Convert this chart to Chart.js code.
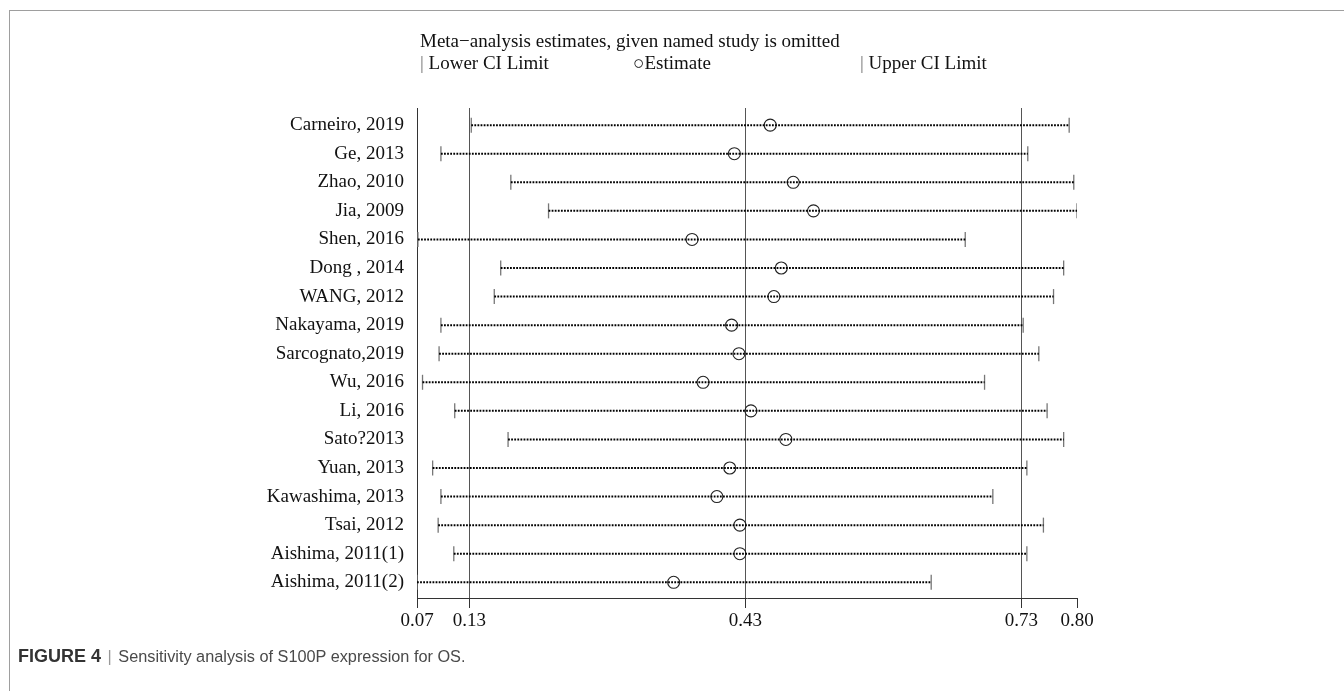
<!DOCTYPE html>
<html>
<head>
<meta charset="utf-8">
<script src="https://cdn.jsdelivr.net/npm/chart.js@4"></script>
<style>
  body { margin: 0; width: 1344px; height: 691px; position: relative; background: #fff; overflow: hidden; }
  #frame { position: absolute; left: 9px; top: 10px; right: 0; bottom: 0; border-left: 1px solid #9e9e9e; border-top: 1px solid #9e9e9e; }
  #chart { position: absolute; left: 0; top: 0; }
  .serif { position: absolute; font-family: "Liberation Serif", "Times New Roman", serif; font-size: 19px; color: #111; white-space: nowrap; line-height: 1; }
  .pipe { color: #777; }
  #caption { position: absolute; left: 18px; top: 647px; font-family: "Liberation Sans", Arial, sans-serif; font-size: 16.3px; color: #4a4a4a; white-space: nowrap; line-height: 1; }
  #caption b { color: #333; font-size: 18px; }
  #caption .sep { color: #999; margin: 0 2px; }
</style>
</head>
<body>
<div id="frame"></div>
<canvas id="chart" width="1344" height="691"></canvas>

<div class="serif" style="left:420px;top:31px">Meta−analysis estimates, given named study is omitted</div>
<div class="serif" style="left:420px;top:53px"><span class="pipe">|</span> Lower CI Limit</div>
<div class="serif" style="left:633px;top:53px">○Estimate</div>
<div class="serif" style="left:860px;top:53px"><span class="pipe">|</span> Upper CI Limit</div>

<div id="caption"><b>FIGURE 4</b> <span class="sep">|</span> Sensitivity analysis of S100P expression for OS.</div>

<script>
// 各研究を除外したときのメタ解析推定値
const studies = [
    'Carneiro, 2019', 'Ge, 2013', 'Zhao, 2010', 'Jia, 2009', 'Shen, 2016',
    'Dong , 2014', 'WANG, 2012', 'Nakayama, 2019', 'Sarcognato,2019', 'Wu, 2016',
    'Li, 2016', 'Sato?2013', 'Yuan, 2013', 'Kawashima, 2013', 'Tsai, 2012',
    'Aishima, 2011(1)', 'Aishima, 2011(2)'
];
const lowerCI = [0.132, 0.099, 0.175, 0.216, 0.074, 0.164, 0.157, 0.099, 0.097, 0.079, 0.114, 0.172, 0.090, 0.099, 0.096, 0.113, 0.073];
const estimate = [0.457, 0.418, 0.482, 0.504, 0.372, 0.469, 0.461, 0.415, 0.423, 0.384, 0.436, 0.474, 0.413, 0.399, 0.424, 0.424, 0.352];
const upperCI = [0.782, 0.737, 0.787, 0.7905, 0.669, 0.776, 0.765, 0.732, 0.749, 0.690, 0.758, 0.776, 0.736, 0.699, 0.754, 0.736, 0.632];

// 全体の推定値と信頼区間（縦線）
const refLines = [0.13, 0.43, 0.73];
const axisMin = 0.073;
const axisMax = 0.7905;
const xTickValues = [axisMin, refLines[0], refLines[1], refLines[2], axisMax];
const xTickLabels = ['0.07', '0.13', '0.43', '0.73', '0.80'];

const serif = { family: '"Liberation Serif", "Times New Roman", serif', size: 19 };

// 点線（研究ごとに1本）
const ciDatasets = studies.map((name, i) => ({
    label: name,
    data: [{ x: lowerCI[i], y: i + 1 }, { x: upperCI[i], y: i + 1 }],
    showLine: true,
    borderColor: '#000',
    borderWidth: 2,
    borderDash: [1.8, 1.3],
    pointRadius: 0
}));

const capPoints = [];
studies.forEach((_, i) => {
    capPoints.push({ x: lowerCI[i], y: i + 1 });
    capPoints.push({ x: upperCI[i], y: i + 1 });
});

new Chart(document.getElementById('chart').getContext('2d'), {
    type: 'scatter',
    data: {
        datasets: [
            ...ciDatasets,
            {
                label: 'CI limits',
                data: capPoints,
                pointStyle: 'line',
                pointRotation: 90,
                pointRadius: 7.5,
                pointBorderColor: '#777',
                pointBorderWidth: 1.3
            },
            {
                label: 'Estimate',
                data: estimate.map((v, i) => ({ x: v, y: i + 1 })),
                pointStyle: 'circle',
                pointRadius: 6,
                pointBorderColor: '#222',
                pointBorderWidth: 1.1,
                pointBackgroundColor: 'rgba(0,0,0,0)'
            }
        ]
    },
    options: {
        responsive: false,
        animation: false,
        events: [],
        layout: { padding: { top: 108, right: 267, bottom: 53, left: 0 } },
        plugins: { legend: { display: false }, tooltip: { enabled: false } },
        scales: {
            x: {
                type: 'linear',
                min: axisMin,
                max: axisMax,
                afterBuildTicks: scale => { scale.ticks = xTickValues.map(v => ({ value: v })); },
                afterFit: scale => { scale.height = 40; },
                ticks: {
                    autoSkip: false,
                    maxRotation: 0,
                    padding: 2,
                    color: '#111',
                    font: serif,
                    callback: (v, i) => xTickLabels[i]
                },
                grid: {
                    color: c => (c.index === 4 ? 'rgba(0,0,0,0)' : '#555'),
                    lineWidth: 1,
                    tickColor: '#333',
                    tickLength: 10
                },
                border: { display: true, color: '#333', width: 1 }
            },
            y: {
                type: 'linear',
                reverse: true,
                min: 0.4,
                max: 17.55,
                afterBuildTicks: scale => { scale.ticks = studies.map((_, i) => ({ value: i + 1 })); },
                afterFit: scale => { scale.width = 417; },
                ticks: {
                    autoSkip: false,
                    padding: 13,
                    color: '#111',
                    font: serif,
                    callback: v => studies[Math.round(v) - 1]
                },
                grid: { display: true, color: 'rgba(0,0,0,0)', drawTicks: false },
                border: { display: true, color: '#333', width: 1 }
            }
        }
    }
});
</script>
</body>
</html>
